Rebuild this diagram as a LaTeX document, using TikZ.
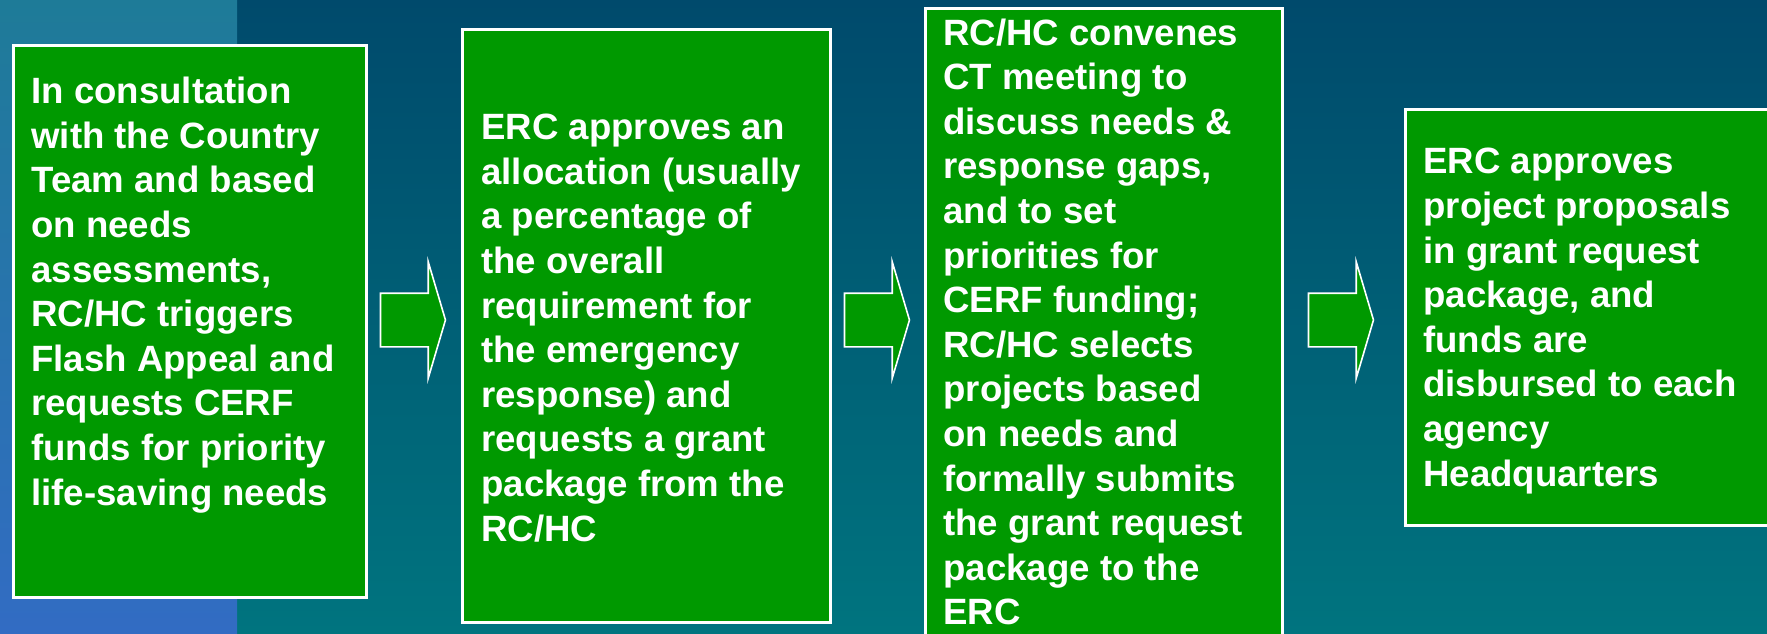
\documentclass[tikz,border=0pt]{standalone}
\usepackage{fontspec}
\setmainfont{Liberation Sans}[Ligatures=NoCommon]
\usetikzlibrary{positioning,calc,shapes.arrows}

\definecolor{boxgreen}{RGB}{0,153,0}
\definecolor{bgtop}{RGB}{0,74,108}
\definecolor{bgbot}{RGB}{0,116,127}
\definecolor{striptop}{RGB}{30,123,152}
\definecolor{stripbot}{RGB}{50,108,195}

\begin{document}
\begin{tikzpicture}[x=0.5pt,y=-0.5pt]
	\useasboundingbox (0,0) rectangle (1767,633);
	\clip (0,0) rectangle (1767,633);
	\shade[top color=bgtop, bottom color=bgbot] (0,0) rectangle (1767,633);
	\shade[top color=striptop, bottom color=stripbot] (0,0) rectangle (237,633);
	\begin{scope}
		\tikzstyle{every node}=[inner sep=0pt]
		\tikzstyle{stepbox}=[draw=white, line width=1.3pt, fill=boxgreen, anchor=north west]
		\tikzstyle{steptext}=[text=white, align=left, anchor=west, font=\bfseries\fontsize{18.3pt}{22.3pt}\selectfont]
		\tikzstyle{nextarrow}=[single arrow, draw=white, line width=0.8pt, fill=boxgreen,
			text height=26pt, text depth=0pt, minimum height=32.5pt,
			single arrow head extend=15.75pt, single arrow tip angle=147]

		\node[stepbox, minimum width=176.5pt, minimum height=276pt] (box1) at (12,44) {};
		\node[stepbox, minimum width=184pt, minimum height=296.5pt] (box2) at (461,28) {};
		\node[stepbox, minimum width=178.5pt, minimum height=326.5pt] (box3) at (924,7) {};
		\node[stepbox, minimum width=193pt, minimum height=208pt] (box4) at (1404,108) {};

		\node[steptext] (txt1) at (31,295) {In consultation\\with the Country\\Team and based\\on needs\\assessments,\\RC/HC triggers\\Flash Appeal and\\requests CERF\\funds for priority\\life-saving needs};
		\node[steptext] (txt2) at (481,328) {ERC approves an\\allocation (usually\\a percentage of\\the overall\\requirement for\\the emergency\\response) and\\requests a grant\\package from the\\RC/HC};
		\node[steptext] (txt3) at (943,322) {RC/HC convenes\\CT meeting to\\discuss needs \&\\response gaps,\\and to set\\priorities for\\CERF funding;\\RC/HC selects\\projects based\\on needs and\\formally submits\\the grant request\\package to the\\ERC};
		\node[steptext] (txt4) at (1423,321) {ERC approves\\project proposals\\in grant request\\package, and\\funds are\\disbursed to each\\agency\\Headquarters};

		\node[nextarrow] (arr1) at (409,320) {};
		\node[nextarrow] (arr2) at (873,320) {};
		\node[nextarrow] (arr3) at (1337,320) {};
	\end{scope}
\end{tikzpicture}
\end{document}
